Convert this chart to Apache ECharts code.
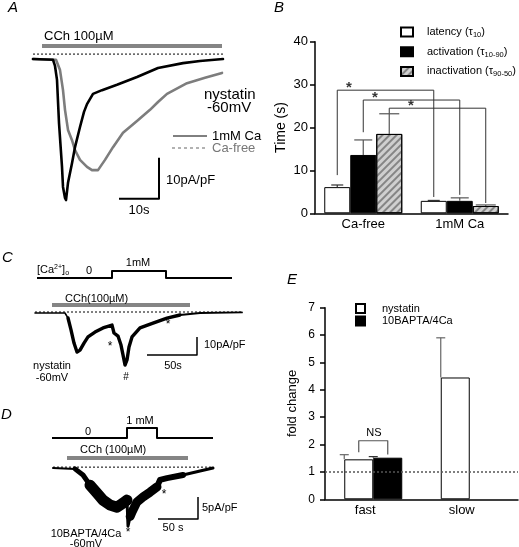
<!DOCTYPE html>
<html>
<head>
<meta charset="utf-8">
<script src="https://cdn.jsdelivr.net/npm/echarts@6/dist/echarts.min.js"></script>
<style>
html,body{margin:0;padding:0;background:#fff;}
#c{width:519px;height:547px;}
</style>
</head>
<body>
<div id="c"></div>
<script>
// ---------- Panel A traces (time s, current pA/pF) ----------
const aSolidT = [0, 5, 5.5, 6, 6.5, 7.25, 7.5, 8, 8.25, 8.75, 9.75, 10.5, 11.75, 12.75, 13.5, 15, 17.25, 21, 26, 31.25, 37.5, 41.75, 47.5];
const aSolidV = [0, -0.2, -1.7, -5.1, -15.6, -26.3, -31.2, -33.9, -34.4, -30.2, -25.4, -21.5, -16.6, -12.9, -11, -8.5, -7.6, -6.3, -4.4, -2.2, -1, -0.5, 0];
const aFreeT = [0, 5.75, 6.75, 7.5, 8, 8.75, 9.75, 10.5, 11.75, 13.5, 14.75, 16.25, 18, 20, 22.5, 26, 29.25, 31.25, 33.5, 38.5, 43, 47.25];
const aFreeV = [0, -0.2, -2.7, -7.6, -12.4, -17.3, -19.8, -22.2, -24.6, -26.3, -27.1, -27.1, -24.6, -21.5, -18, -15.1, -12.4, -10.5, -8.5, -5.9, -4.6, -3.4];
const aBaseT = [0, 48];   const aBaseV = [1.2, 1.2];
const aCChT = [2.25, 47.25]; const aCChV = [3.2, 3.2];
const aScaleT = [21.5, 31.5, 31.5]; const aScaleV = [-34.1, -34.1, -24.1];

// ---------- Panel B bars ----------
const bCats = ['Ca-free', '1mM Ca'];
const bLatency = [6.1, 2.9];       const bLatencyErr = [6.6, 3.0];
const bActivation = [13.6, 2.9];   const bActivationErr = [17.1, 3.6];
const bInactivation = [18.5, 1.7]; const bInactivationErr = [23.2, 1.95];
// significance brackets: [leftX, leftBottom, top, rightX, rightBottom]
const bBr1 = [0.2306, 8.9, 28.7, 1.2306, 3.8];
const bBr2 = [0.5, 18.9, 26.4, 1.5, 4.3];
const bBr3 = [0.7694, 23.2, 24.5, 1.7694, 2.4];
const bStarX = [0.352, 0.622, 0.995];
const bStarY = [29.2, 26.9, 25.0];

// ---------- Panel C trace (segments) ----------
const cT1 = [0, 30, 33, 36];
const cV1 = [0, 0, -2.8, -9.4];
const cT2 = [33, 36, 39, 42, 45, 49, 53, 60, 68, 77, 79, 83, 86, 88, 90, 92, 94, 97, 105, 118, 132, 145];
const cV2 = [-2.8, -9.4, -16.7, -21.7, -20.6, -16.7, -13.3, -10.6, -8.3, -6.7, -11.1, -12.8, -17.8, -23.3, -28.9, -26.1, -18.9, -13.3, -8.3, -5.6, -2.8, -1.1];
const cT3 = [132, 145, 165, 207];
const cV3 = [-2.8, -1.1, 0, 0.3];
const cStepT = [2, 77, 77, 131, 131, 197]; const cStepV = [19.4, 19.4, 23.3, 23.3, 19.4, 19.4];
const cCChT = [17, 155]; const cCChV = [4.4, 4.4];
const cBaseT = [0, 207]; const cBaseV = [0.55, 0.55];
const cScaleT = [112, 162, 162]; const cScaleV = [-23.3, -23.3, -13.3];

// ---------- Panel D trace (segments) ----------
const dT1 = [0, 27.5, 37.5];                 const dV1 = [0, -0.2, -1.6];
const dT2 = [27.5, 37.5, 46.25, 55];         const dV2 = [-0.2, -1.6, -3.9, -5.7];
const dT3 = [46.25, 55, 62.5, 71.25, 80, 87.5, 92.5]; const dV3 = [-3.9, -5.7, -7.3, -8.4, -8.9, -8, -7.3];
const dTs = [92.5, 93.75, 95.5];              const dVs = [-7.3, -13.2, -11.8];
const dT4 = [96.5, 98.75, 105, 112.5, 121.25, 130]; const dV4 = [-11, -10, -7.7, -6.6, -5.5, -4.3];
const dT5 = [121.25, 130, 133.75, 142.5, 162.5];  const dV5 = [-5.5, -4.3, -2.7, -2.3, -1.6];
const dT6 = [142.5, 162.5, 183.75, 200];      const dV6 = [-2.3, -1.6, -0.7, 0];
const dStepT = [-1.25, 92.5, 92.5, 130, 130, 200]; const dStepV = [6.8, 6.8, 9.1, 9.1, 6.8, 6.8];
const dCChT = [17.5, 168.75]; const dCChV = [2.3, 2.3];
const dBaseT = [0, 200]; const dBaseV = [0.2, 0.2];
const dScaleT = [131.25, 181.25, 181.25]; const dScaleV = [-11.6, -11.6, -6.6];

// ---------- Panel E bars ----------
const eCats = ['fast', 'slow'];
const eNystatin = [1.46, 4.45]; const eNystatinErr = [1.63, 5.9];
const eBapta = [1.52, null];    const eBaptaErr = [1.56, null];
const eNS = [0.3497, 1.72, 2.14, 0.6503, 1.64];

// ---------- helpers ----------
const FONT = '"Liberation Sans", Arial, Helvetica, sans-serif';
function zip(a, b) { return a.map((v, i) => [v, b[i]]); }
function line(name, xi, yi, data, style) {
  return { name: name, type: 'line', xAxisIndex: xi, yAxisIndex: yi, data: data,
    showSymbol: false, symbol: 'none', silent: true, animation: false, z: style.z || 3,
    lineStyle: { color: style.color || '#000', width: style.width || 1, type: style.type || 'solid', cap: style.cap || 'round', join: 'round' } };
}
function bracket(b) { return [[b[0], b[1]], [b[0], b[2]], [b[3], b[2]], [b[3], b[4]]]; }
function errData(vals, errs, centerFn) {
  const out = [];
  vals.forEach((v, i) => { if (v != null && errs[i] != null) out.push([centerFn(i), v, errs[i]]); });
  return out;
}
function errSeries(xi, yi, data, cap, color) {
  return { type: 'custom', xAxisIndex: xi, yAxisIndex: yi, data: data, silent: true, animation: false, z: 4,
    encode: { x: 0, y: [1, 2] },
    renderItem: function (params, api) {
      const p0 = api.coord([api.value(0), api.value(1)]);
      const p1 = api.coord([api.value(0), api.value(2)]);
      const st = { stroke: color, lineWidth: 1.2 };
      return { type: 'group', children: [
        { type: 'line', shape: { x1: p0[0], y1: p0[1], x2: p1[0], y2: p1[1] }, style: st },
        { type: 'line', shape: { x1: p1[0] - cap, y1: p1[1], x2: p1[0] + cap, y2: p1[1] }, style: st }
      ] };
    } };
}
function txt(x, y, text, size, opts) {
  opts = opts || {};
  return { type: 'text', x: x, y: y, silent: true, z: 10,
    style: { text: text, fontSize: size, fontFamily: FONT, fill: opts.fill || '#000',
      fontStyle: opts.italic ? 'italic' : 'normal',
      textAlign: opts.align || 'left', textVerticalAlign: 'middle', rich: opts.rich } };
}

const bBarFrac = 26 / 96.5, eBarFrac = 29 / 96.5;
const hatch = { symbol: 'rect', symbolSize: 1, dashArrayX: [1, 0], dashArrayY: [1.2, 2.6], rotation: -Math.PI / 4, color: 'rgba(60,60,60,0.5)' };

const chart = echarts.init(document.getElementById('c'), null, { renderer: 'canvas' });

const option = {
  animation: false,
  backgroundColor: '#fff',
  textStyle: { fontFamily: FONT, color: '#000' },
  grid: [
    { left: 33, top: 38.5, width: 192, height: 184.5 },
    { left: 315, top: 41.7, width: 193, height: 171.6 },
    { left: 35, top: 268, width: 210, height: 108 },
    { left: 51.4, top: 424, width: 161.6, height: 110 },
    { left: 325, top: 307.7, width: 193, height: 191.6 }
  ],
  xAxis: [
    { gridIndex: 0, type: 'value', min: 0, max: 48, show: false },
    { gridIndex: 1, type: 'category', data: bCats, axisTick: { show: false },
      axisLine: { lineStyle: { color: '#000', width: 1.5 } },
      axisLabel: { fontSize: 13, margin: 5, color: '#000', fontFamily: FONT } },
    { gridIndex: 1, type: 'value', min: 0, max: 2, show: false, position: 'top' },
    { gridIndex: 2, type: 'value', min: 0, max: 210, show: false },
    { gridIndex: 3, type: 'value', min: -2, max: 200, show: false },
    { gridIndex: 4, type: 'category', data: eCats, axisTick: { show: false },
      axisLine: { lineStyle: { color: '#000', width: 1.5 } },
      axisLabel: { fontSize: 13, margin: 5, color: '#000', fontFamily: FONT, padding: [0, 16, 0, 0] } },
    { gridIndex: 4, type: 'value', min: 0, max: 2, show: false, position: 'top' }
  ],
  yAxis: [
    { gridIndex: 0, type: 'value', min: -40, max: 5, show: false },
    { gridIndex: 1, type: 'value', min: 0, max: 40, interval: 10, name: 'Time (s)', nameLocation: 'middle', nameGap: 27,
      nameTextStyle: { fontSize: 14, fontFamily: FONT, color: '#000' },
      splitLine: { show: false },
      axisLine: { show: true, lineStyle: { color: '#000', width: 1.5 } },
      axisTick: { show: true, length: 5, lineStyle: { color: '#000', width: 1.5 } },
      axisLabel: { fontSize: 13, margin: 7, color: '#000', fontFamily: FONT } },
    { gridIndex: 2, type: 'value', min: -35, max: 25, show: false },
    { gridIndex: 3, type: 'value', min: -15, max: 10, show: false },
    { gridIndex: 4, type: 'value', min: 0, max: 7, interval: 1, name: 'fold change', nameLocation: 'middle', nameGap: 26,
      nameTextStyle: { fontSize: 13, fontFamily: FONT, color: '#000' },
      splitLine: { show: false },
      axisLine: { show: true, lineStyle: { color: '#000', width: 1.5 } },
      axisTick: { show: true, length: 5, lineStyle: { color: '#000', width: 1.5 } },
      axisLabel: { fontSize: 12, margin: 10, color: '#000', fontFamily: FONT } }
  ],
  legend: [
    { left: 400, top: 25, padding: 0, orient: 'vertical', itemWidth: 12, itemHeight: 9, itemGap: 5.7, icon: 'rect',
      selectedMode: false, data: ['latency', 'activation', 'inactivation'],
      formatter: function (n) {
        return { latency: 'latency (τ{s|10})', activation: 'activation (τ{s|10-90})', inactivation: 'inactivation (τ{s|90-50})' }[n];
      },
      textStyle: { fontSize: 11, fontFamily: FONT, color: '#000', padding: [0, 0, 0, 9], lineHeight: 14,
        rich: { s: { fontSize: 7.5, fontFamily: FONT, verticalAlign: 'bottom', lineHeight: 14, padding: [6, 0, 0, 0] } } } },
    { left: 355, top: 302.5, padding: 0, orient: 'vertical', itemWidth: 9, itemHeight: 9, itemGap: 0.5, icon: 'rect',
      selectedMode: false, data: ['nystatin', '10BAPTA/4Ca'],
      textStyle: { fontSize: 11, fontFamily: FONT, color: '#000', padding: [0, 0, 0, 12], lineHeight: 12 } }
  ],
  series: [
    // Panel A
    line('Ca-free', 0, 0, zip(aFreeT, aFreeV), { color: '#7d7d7d', width: 2.6 }),
    line('1mM Ca', 0, 0, zip(aSolidT, aSolidV), { color: '#000', width: 2.6, z: 4 }),
    line('A baseline', 0, 0, zip(aBaseT, aBaseV), { color: '#000', width: 1, type: [2, 2], cap: 'butt' }),
    line('A CCh', 0, 0, zip(aCChT, aCChV), { color: '#858585', width: 4, cap: 'butt' }),
    line('A scale', 0, 0, zip(aScaleT, aScaleV), { color: '#000', width: 2, cap: 'butt' }),
    // Panel B
    { name: 'latency', type: 'bar', xAxisIndex: 1, yAxisIndex: 1, data: bLatency, barWidth: 26, barGap: '0%',
      itemStyle: { color: '#fff', borderColor: '#000', borderWidth: 1 }, silent: true, z: 2 },
    { name: 'activation', type: 'bar', xAxisIndex: 1, yAxisIndex: 1, data: bActivation, barWidth: 26, barGap: '0%',
      itemStyle: { color: '#000', borderColor: '#000', borderWidth: 1 }, silent: true, z: 2 },
    { name: 'inactivation', type: 'bar', xAxisIndex: 1, yAxisIndex: 1, data: bInactivation, barWidth: 26, barGap: '0%',
      itemStyle: { color: '#cfcfcf', borderColor: '#000', borderWidth: 1, decal: hatch }, silent: true, z: 2 },
    errSeries(2, 1, errData(bLatency, bLatencyErr, i => i + 0.5 - bBarFrac), 6, '#333'),
    errSeries(2, 1, errData(bActivation, bActivationErr, i => i + 0.5), 9, '#555'),
    errSeries(2, 1, errData(bInactivation, bInactivationErr, i => i + 0.5 + bBarFrac), 10, '#555'),
    line('br1', 2, 1, bracket(bBr1), { color: '#333', width: 1, cap: 'butt' }),
    line('br2', 2, 1, bracket(bBr2), { color: '#333', width: 1, cap: 'butt' }),
    line('br3', 2, 1, bracket(bBr3), { color: '#333', width: 1, cap: 'butt' }),
    { type: 'scatter', xAxisIndex: 2, yAxisIndex: 1, data: zip(bStarX, bStarY), symbolSize: 0, silent: true,
      label: { show: true, position: 'inside', formatter: '*', fontSize: 15, fontWeight: 'bold', color: '#000', fontFamily: FONT } },
    // Panel C
    line('C trace 1', 3, 2, zip(cT1, cV1), { color: '#000', width: 1.6 }),
    line('C trace 2', 3, 2, zip(cT2, cV2), { color: '#000', width: 3.4 }),
    line('C trace 3', 3, 2, zip(cT3, cV3), { color: '#000', width: 1.8 }),
    line('C step', 3, 2, zip(cStepT, cStepV), { color: '#000', width: 2, cap: 'butt' }),
    line('C CCh', 3, 2, zip(cCChT, cCChV), { color: '#858585', width: 4, cap: 'butt' }),
    line('C base', 3, 2, zip(cBaseT, cBaseV), { color: '#000', width: 1, type: [2, 2], cap: 'butt' }),
    line('C scale', 3, 2, zip(cScaleT, cScaleV), { color: '#000', width: 1.5, cap: 'butt' }),
    // Panel D
    line('D trace 1', 4, 3, zip(dT1, dV1), { color: '#000', width: 2 }),
    line('D trace 2', 4, 3, zip(dT2, dV2), { color: '#000', width: 5 }),
    line('D trace 3', 4, 3, zip(dT3, dV3), { color: '#000', width: 11 }),
    line('D spike', 4, 3, zip(dTs, dVs), { color: '#000', width: 3 }),
    line('D trace 4', 4, 3, zip(dT4, dV4), { color: '#000', width: 9 }),
    line('D trace 5', 4, 3, zip(dT5, dV5), { color: '#000', width: 6 }),
    line('D trace 6', 4, 3, zip(dT6, dV6), { color: '#000', width: 3 }),
    line('D step', 4, 3, zip(dStepT, dStepV), { color: '#000', width: 2, cap: 'butt' }),
    line('D CCh', 4, 3, zip(dCChT, dCChV), { color: '#858585', width: 4, cap: 'butt' }),
    line('D base', 4, 3, zip(dBaseT, dBaseV), { color: '#000', width: 1, type: [2, 2], z: 5, cap: 'butt' }),
    line('D scale', 4, 3, zip(dScaleT, dScaleV), { color: '#000', width: 1.5, cap: 'butt' }),
    // Panel E
    { name: 'nystatin', type: 'bar', xAxisIndex: 5, yAxisIndex: 4, data: eNystatin, barWidth: 29, barGap: '0%',
      itemStyle: { color: '#fff', borderColor: '#000', borderWidth: 1 }, silent: true, z: 2,
      markLine: { silent: true, symbol: 'none', label: { show: false }, data: [{ yAxis: 1 }],
        lineStyle: { color: '#555', type: [2, 2], width: 1.5 } } },
    { name: '10BAPTA/4Ca', type: 'bar', xAxisIndex: 5, yAxisIndex: 4, data: eBapta, barWidth: 29, barGap: '0%',
      itemStyle: { color: '#000', borderColor: '#000', borderWidth: 1 }, silent: true, z: 2 },
    errSeries(6, 4, errData(eNystatin, eNystatinErr, i => i + 0.5 - eBarFrac), 4.5, '#666'),
    errSeries(6, 4, errData(eBapta, eBaptaErr, i => i + 0.5), 4.5, '#333'),
    line('NS', 6, 4, bracket(eNS), { color: '#555', width: 1.2, cap: 'butt' })
  ],
  graphic: [
    // panel letters
    txt(8, 8, 'A', 15, { italic: true }),
    txt(274, 8, 'B', 15, { italic: true }),
    txt(2, 258, 'C', 15, { italic: true }),
    txt(1, 415, 'D', 15, { italic: true }),
    txt(287, 280, 'E', 15, { italic: true }),
    // panel A texts
    txt(44, 36, 'CCh 100µM', 13),
    txt(204, 95, 'nystatin', 15),
    txt(207, 108, '-60mV', 15),
    { type: 'line', silent: true, shape: { x1: 173, y1: 136, x2: 207, y2: 136 }, style: { stroke: '#000', lineWidth: 1 } },
    { type: 'line', silent: true, shape: { x1: 172, y1: 148, x2: 208, y2: 148 }, style: { stroke: '#666', lineWidth: 1, lineDash: [3, 3] } },
    txt(212, 136, '1mM Ca', 13),
    txt(212, 148, 'Ca-free', 13, { fill: '#777' }),
    txt(166, 180, '10pA/pF', 13),
    txt(139, 210, '10s', 13, { align: 'center' }),
    // panel C texts
    txt(37, 270, '[Ca{sup|2+}]{sub|o}', 11, { rich: { sup: { fontSize: 7, fontFamily: FONT, padding: [0, 0, 6, 0] }, sub: { fontSize: 7, fontFamily: FONT, padding: [6, 0, 0, 0] } } }),
    txt(89, 271, '0', 11, { align: 'center' }),
    txt(138, 263, '1mM', 11, { align: 'center' }),
    txt(65, 299, 'CCh(100µM)', 11),
    txt(110, 347, '*', 12, { align: 'center' }),
    txt(168, 325, '*', 12, { align: 'center' }),
    txt(126, 377, '#', 10, { align: 'center' }),
    txt(204, 345, '10pA/pF', 11),
    txt(173, 366, '50s', 11, { align: 'center' }),
    txt(52, 366, 'nystatin', 11, { align: 'center' }),
    txt(52, 378, '-60mV', 11, { align: 'center' }),
    // panel D texts
    txt(88, 432, '0', 11, { align: 'center' }),
    txt(140, 421, '1 mM', 11, { align: 'center' }),
    txt(80, 450, 'CCh (100µM)', 11),
    txt(128, 533, '*', 12, { align: 'center' }),
    txt(164, 495, '*', 12, { align: 'center' }),
    txt(202, 508, '5pA/pF', 11),
    txt(173, 528, '50 s', 11, { align: 'center' }),
    txt(86, 534, '10BAPTA/4Ca', 11, { align: 'center' }),
    txt(86, 544, '-60mV', 11, { align: 'center' }),
    // panel E
    txt(374, 433, 'NS', 11, { align: 'center' })
  ]
};
chart.setOption(option);
</script>
</body>
</html>
